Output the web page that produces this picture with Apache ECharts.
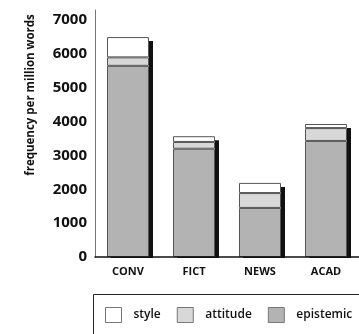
<!DOCTYPE html>
<html>
<head>
<meta charset="utf-8">
<script src="https://cdn.jsdelivr.net/npm/echarts@6/dist/echarts.min.js"></script>
<style>
html,body{margin:0;padding:0;background:#fff;}
#c{width:359px;height:334px;}
</style>
</head>
<body>
<div id="c"></div>
<script>
const categories = ['CONV', 'FICT', 'NEWS', 'ACAD'];
const epistemic = [5650, 3200, 1450, 3430];
const attitude = [250, 200, 440, 380];
const style = [600, 170, 300, 120];
const yTicks = [0, 1000, 2000, 3000, 4000, 5000, 6000, 7000];
const yLabel = 'frequency per million words';

const totals = categories.map(function (c, i) { return epistemic[i] + attitude[i] + style[i]; });

const FONT = '"Open Sans", "Liberation Sans", sans-serif';
const chart = echarts.init(document.getElementById('c'), null, {renderer: 'canvas'});

function barSeries(name, data, color) {
  return {
    name: name,
    type: 'bar',
    stack: 'total',
    data: data,
    barWidth: 42,
    barGap: '-100%',
    z: 3,
    itemStyle: {
      color: color,
      borderColor: '#555',
      borderWidth: 1
    },
    emphasis: {disabled: true}
  };
}

chart.setOption({
  animation: false,
  backgroundColor: '#fff',
  grid: {left: 95, right: -14, top: 10, bottom: 77, containLabel: false},
  xAxis: {
    type: 'category',
    data: categories,
    z: 20,
    axisLine: {lineStyle: {color: '#111', width: 1.5}},
    axisTick: {show: false},
    axisLabel: {color: '#111', fontSize: 11, fontWeight: 'bold', fontFamily: FONT, margin: 9}
  },
  yAxis: {
    type: 'value',
    min: 0,
    max: 7300,
    interval: 1000,
    axisLine: {show: true, lineStyle: {color: '#777', width: 1}},
    axisTick: {show: false},
    splitLine: {show: false},
    axisLabel: {
      color: '#111', fontSize: 15, fontWeight: 'bold', fontFamily: FONT, margin: 8,
      formatter: function (v) { return yTicks.indexOf(v) >= 0 ? String(v) : ''; }
    }
  },
  legend: {
    data: ['style', 'attitude', 'epistemic'],
    left: 105,
    top: 307,
    padding: 0,
    orient: 'horizontal',
    itemWidth: 16,
    itemHeight: 15,
    itemGap: 16,
    icon: 'rect',
    itemStyle: {borderColor: '#777', borderWidth: 1},
    textStyle: {color: '#111', fontSize: 12, fontWeight: 600, fontFamily: FONT, padding: [0, 0, 0, 7]},
    selectedMode: false
  },
  graphic: [
    {
      type: 'rect',
      z: 10,
      shape: {x: 97, y: 258, width: 270, height: 5},
      style: {fill: '#fff'},
      silent: true
    },
    {
      type: 'rect',
      shape: {x: 93.5, y: 294.5, width: 300, height: 60},
      style: {fill: 'none', stroke: '#222', lineWidth: 1},
      silent: true
    },
    {
      type: 'text',
      x: 31,
      y: 95,
      rotation: Math.PI / 2,
      style: {
        text: yLabel,
        fill: '#111',
        font: 'bold 11.5px ' + FONT,
        textAlign: 'center',
        textVerticalAlign: 'middle'
      },
      silent: true
    }
  ],
  series: [
    {
      name: '_shadow',
      type: 'bar',
      stack: 'shadow',
      data: totals,
      barWidth: 42,
      barGap: '-100%',
      z: 1,
      itemStyle: {
        color: '#fff',
        borderWidth: 0,
        shadowColor: '#111',
        shadowBlur: 0,
        shadowOffsetX: 4,
        shadowOffsetY: 4
      },
      emphasis: {disabled: true},
      silent: true
    },
    barSeries('epistemic', epistemic, '#b3b3b3'),
    barSeries('attitude', attitude, '#d8d8d8'),
    barSeries('style', style, '#ffffff')
  ]
});
</script>
</body>
</html>
